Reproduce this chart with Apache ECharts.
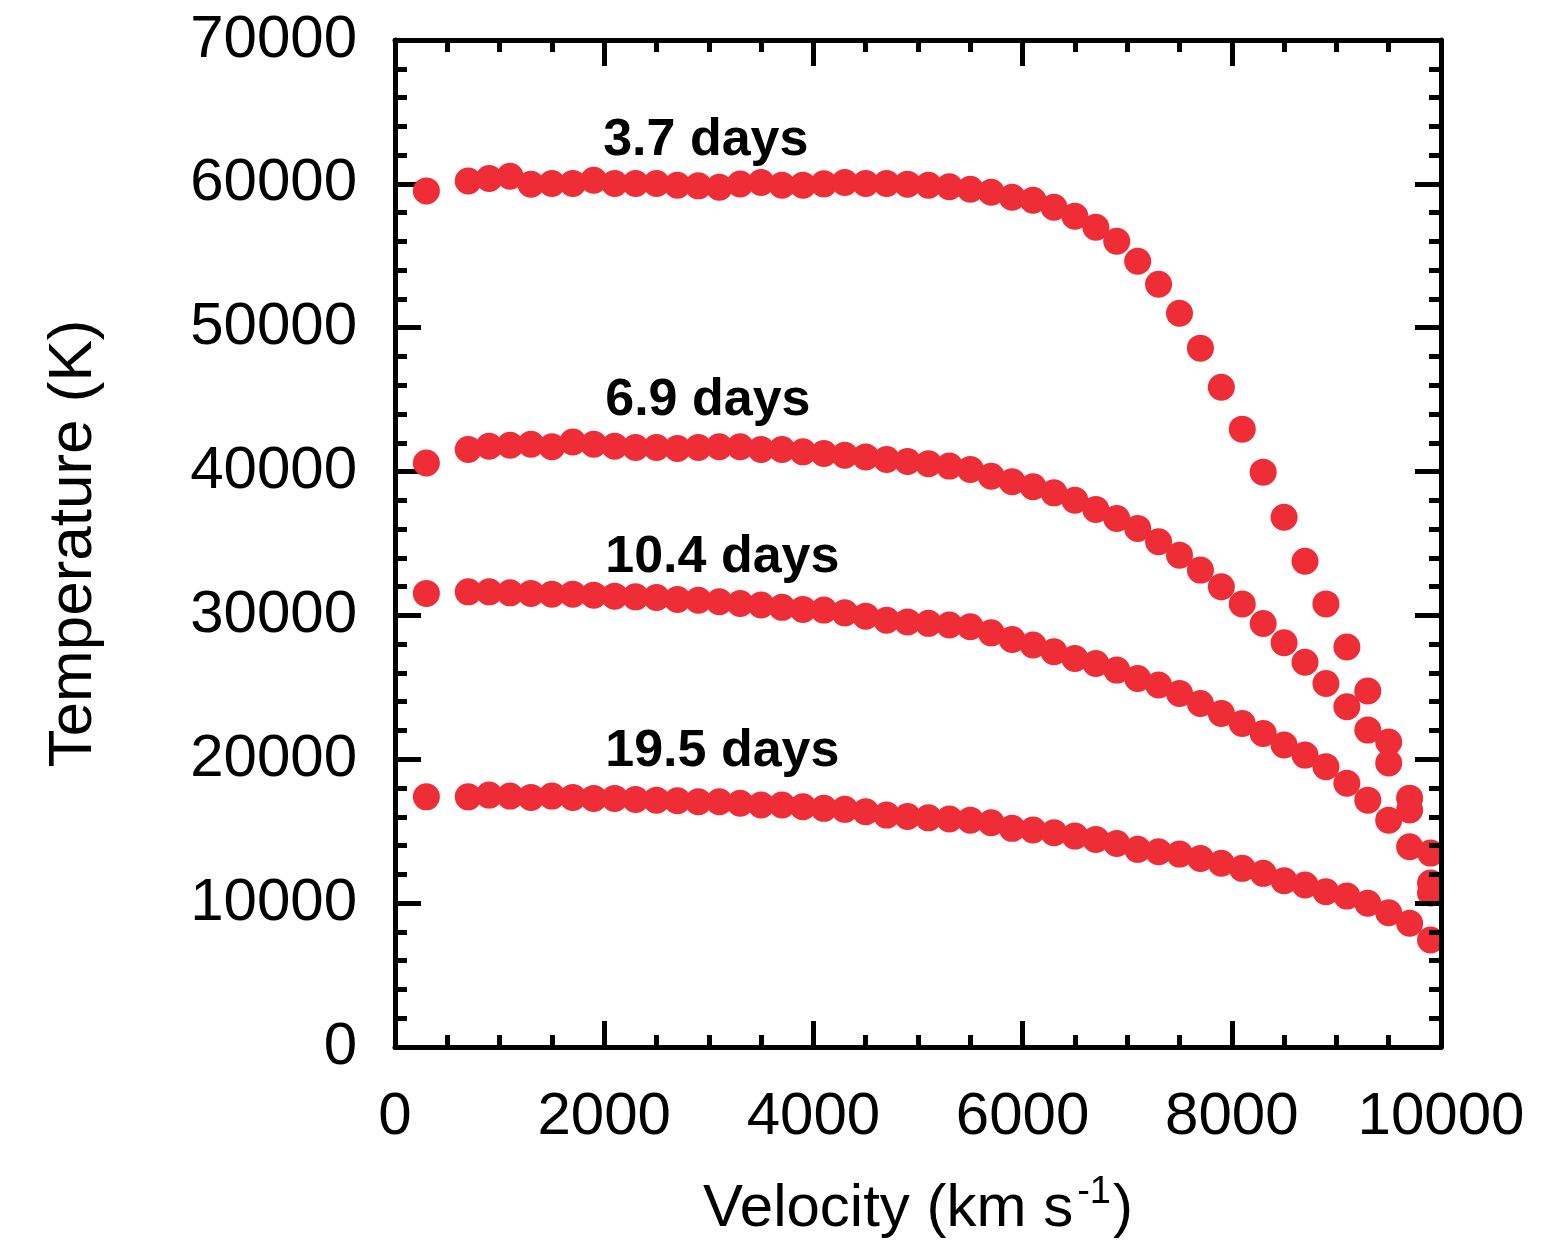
<!DOCTYPE html>
<html>
<head>
<meta charset="utf-8">
<script src="https://cdn.jsdelivr.net/npm/echarts@6/dist/echarts.min.js"></script>
<style>
html,body{margin:0;padding:0;background:#fff;}
#chart{width:1553px;height:1242px;}
</style>
</head>
<body>
<div id="chart"></div>
<script>
// Velocity grid (km/s)
const velocities = [300, 700, 900, 1100, 1300, 1500, 1700, 1900, 2100, 2300, 2500, 2700, 2900, 3100, 3300, 3500, 3700, 3900, 4100, 4300, 4500, 4700, 4900, 5100, 5300, 5500, 5700, 5900, 6100, 6300, 6500, 6700, 6900, 7100, 7300, 7500, 7700, 7900, 8100, 8300, 8500, 8700, 8900, 9100, 9300, 9500, 9700, 9900];

// Temperatures (K)
const temp_3_7 = [59510, 60200, 60370, 60530, 59970, 60020, 60020, 60250, 60020, 60020, 60020, 59900, 59860, 59760, 59990, 60090, 59900, 59900, 60000, 60090, 60020, 60020, 59980, 59900, 59800, 59620, 59420, 59070, 58860, 58370, 57750, 56980, 56010, 54620, 53020, 51010, 48580, 45860, 42950, 39960, 36830, 33770, 30800, 27800, 24750, 21200, 17300, 13480];
const temp_6_9 = [40600, 41530, 41760, 41830, 41900, 41720, 42060, 41900, 41760, 41670, 41670, 41600, 41670, 41720, 41720, 41530, 41530, 41370, 41260, 41140, 41020, 40840, 40700, 40550, 40380, 40150, 39680, 39290, 38940, 38520, 38010, 37370, 36740, 36050, 35120, 34190, 33150, 31990, 30790, 29440, 28100, 26750, 25270, 23650, 22030, 19740, 16470, 11400];
const temp_10_4 = [31530, 31640, 31640, 31570, 31530, 31480, 31480, 31410, 31340, 31290, 31250, 31110, 31060, 30950, 30830, 30720, 30560, 30420, 30370, 30180, 29950, 29670, 29550, 29450, 29330, 29210, 28790, 28330, 27940, 27470, 27010, 26660, 26200, 25620, 25160, 24580, 23880, 23190, 22490, 21800, 20990, 20290, 19480, 18330, 17160, 15770, 13920, 10700];
const temp_19_5 = [17390, 17390, 17510, 17440, 17350, 17440, 17350, 17280, 17280, 17210, 17160, 17120, 17050, 17050, 16940, 16820, 16820, 16700, 16590, 16520, 16350, 16120, 16020, 15930, 15850, 15770, 15590, 15200, 15080, 14890, 14660, 14430, 14150, 13740, 13570, 13410, 13110, 12770, 12420, 12070, 11560, 11260, 10790, 10490, 9990, 9330, 8600, 7440];

const seriesNames = ['3.7 days', '6.9 days', '10.4 days', '19.5 days'];
const seriesTemps = [temp_3_7, temp_6_9, temp_10_4, temp_19_5];
// label anchor (velocity, temperature) for each curve label
const labelVel = [1990, 2010, 2010, 2010];
const labelTemp = [63030, 44960, 34050, 20500];

// Axis ticks
const xTicks = [0, 2000, 4000, 6000, 8000, 10000];
const yTicks = [0, 10000, 20000, 30000, 40000, 50000, 60000, 70000];

const FONT = "'Liberation Sans', Arial, Helvetica, sans-serif";
const RED = '#ee2d36';

const chart = echarts.init(document.getElementById('chart'), null, {renderer: 'canvas'});

const tickStyle = {show: true, inside: true, length: 26, lineStyle: {color: '#000', width: 5}};
const minorStyle = (n) => ({show: true, splitNumber: n, length: 12, lineStyle: {color: '#000', width: 5}});
const lineStyle = {show: true, onZero: false, lineStyle: {color: '#000', width: 5}};

const scatterSeries = seriesTemps.map((arr, i) => ({
  name: seriesNames[i],
  type: 'scatter',
  symbol: 'circle',
  symbolSize: 27,
  itemStyle: {color: RED, opacity: 1},
  data: velocities.map((v, k) => [v, arr[k]]),
  z: 3
}));

const labelSeries = {
  type: 'scatter',
  symbolSize: 0,
  itemStyle: {color: '#000', opacity: 1},
  silent: true,
  data: seriesNames.map((n, i) => ({name: n, value: [labelVel[i], labelTemp[i]]})),
  label: {
    show: true,
    position: 'right',
    distance: 0,
    formatter: '{b}',
    color: '#000',
    opacity: 1,
    textBorderWidth: 0,
    fontFamily: FONT,
    fontWeight: 'bold',
    fontSize: 52
  },
  z: 4
};

chart.setOption({
  animation: false,
  backgroundColor: '#fff',
  grid: {left: 395, right: 112, top: 40, bottom: 195, containLabel: false, outerBoundsMode: 'none'},
  xAxis: [{
    type: 'value',
    min: xTicks[0], max: xTicks[xTicks.length - 1], interval: 2000,
    axisLine: lineStyle,
    axisTick: tickStyle,
    minorTick: minorStyle(4),
    splitLine: {show: false},
    axisLabel: {color: '#000', fontSize: 60, fontFamily: FONT, margin: 40, formatter: (v) => String(v)},
    name: '{a|Velocity (km s}{b|-1}{a|)}',
    nameLocation: 'middle',
    nameGap: 127,
    nameTextStyle: {
      rich: {
        a: {fontSize: 60, fontFamily: FONT, color: '#000', lineHeight: 70},
        b: {fontSize: 38, fontFamily: FONT, color: '#000', verticalAlign: 'top', lineHeight: 70, padding: [0, 2, 36, 4]}
      }
    }
  }, {
    type: 'value', position: 'top',
    min: xTicks[0], max: xTicks[xTicks.length - 1], interval: 2000,
    axisLine: lineStyle,
    axisTick: tickStyle,
    minorTick: minorStyle(4),
    splitLine: {show: false},
    axisLabel: {show: false}
  }],
  yAxis: [{
    type: 'value',
    min: yTicks[0], max: yTicks[yTicks.length - 1], interval: 10000,
    axisLine: lineStyle,
    axisTick: tickStyle,
    minorTick: minorStyle(5),
    splitLine: {show: false},
    axisLabel: {color: '#000', fontSize: 60, fontFamily: FONT, margin: 38, formatter: (v) => String(v)},
    name: 'Temperature (K)',
    nameLocation: 'middle',
    nameGap: 290,
    nameRotate: 90,
    nameTextStyle: {fontSize: 62, fontFamily: FONT, color: '#000'}
  }, {
    type: 'value', position: 'right',
    min: yTicks[0], max: yTicks[yTicks.length - 1], interval: 10000,
    axisLine: lineStyle,
    axisTick: tickStyle,
    minorTick: minorStyle(5),
    splitLine: {show: false},
    axisLabel: {show: false},
    z: 10
  }],
  series: scatterSeries.concat([labelSeries])
});
</script>
</body>
</html>
